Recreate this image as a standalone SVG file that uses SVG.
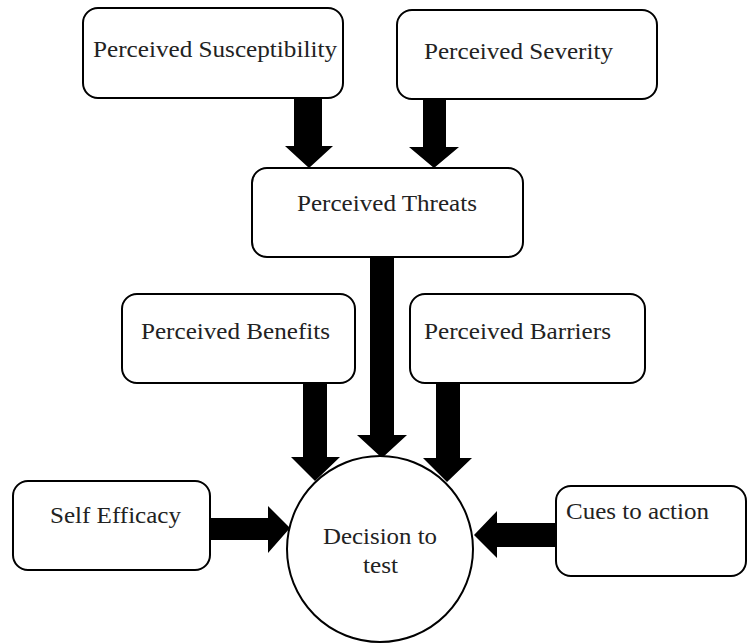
<svg xmlns="http://www.w3.org/2000/svg" width="748" height="643" viewBox="0 0 748 643">
  <style>
    .box { fill: #ffffff; stroke: #000000; stroke-width: 2; }
    .node-circle { fill: #ffffff; stroke: #000000; stroke-width: 2; }
    .label { font-family: "Liberation Serif", "Times New Roman", serif; font-size: 23px; fill: #222222; }
    .arrow { fill: #000000; stroke: none; }
  </style>
  <rect width="748" height="643" fill="#ffffff"/>

  <!-- block arrows -->
  <g id="connectors">
    <!-- Susceptibility -> Threats -->
    <polygon class="arrow" points="294,98 322,98 322,146 333,146 309,168 285,146 294,146"/>
    <!-- Severity -> Threats -->
    <polygon class="arrow" points="423,99 446,99 446,147 459,147 434,168 409,147 423,147"/>
    <!-- Threats -> Decision -->
    <polygon class="arrow" points="370,257 394,257 394,435 407,435 382,458 357,435 370,435"/>
    <!-- Benefits -> Decision -->
    <polygon class="arrow" points="303,383 327,383 327,457 340,457 315,481 291,457 303,457"/>
    <!-- Barriers -> Decision -->
    <polygon class="arrow" points="436,383 460,383 460,458 472,458 447,482 423,458 436,458"/>
    <!-- Self Efficacy -> Decision -->
    <polygon class="arrow" points="210,518 268,518 268,506 290,528 268,553 268,540 210,540"/>
    <!-- Cues to action -> Decision -->
    <polygon class="arrow" points="556,523 497,523 497,511 474,535 497,558 497,547 556,547"/>
  </g>

  <g id="node-susceptibility">
    <rect class="box" x="83" y="8" width="260" height="90" rx="15" ry="15"/>
    <text class="label" x="93" y="57" textLength="244" lengthAdjust="spacingAndGlyphs">Perceived Susceptibility</text>
  </g>

  <g id="node-severity">
    <rect class="box" x="397" y="10" width="260" height="89" rx="15" ry="15"/>
    <text class="label" x="424" y="59" textLength="189" lengthAdjust="spacingAndGlyphs">Perceived Severity</text>
  </g>

  <g id="node-threats">
    <rect class="box" x="252" y="168" width="271" height="89" rx="15" ry="15"/>
    <text class="label" x="297" y="211" textLength="180" lengthAdjust="spacingAndGlyphs">Perceived Threats</text>
  </g>

  <g id="node-benefits">
    <rect class="box" x="122" y="294" width="233" height="89" rx="15" ry="15"/>
    <text class="label" x="141" y="339" textLength="189" lengthAdjust="spacingAndGlyphs">Perceived Benefits</text>
  </g>

  <g id="node-barriers">
    <rect class="box" x="410" y="294" width="235" height="89" rx="15" ry="15"/>
    <text class="label" x="424" y="339" textLength="187" lengthAdjust="spacingAndGlyphs">Perceived Barriers</text>
  </g>

  <g id="node-self-efficacy">
    <rect class="box" x="13" y="481" width="197" height="89" rx="15" ry="15"/>
    <text class="label" x="50" y="523" textLength="131" lengthAdjust="spacingAndGlyphs">Self Efficacy</text>
  </g>

  <g id="node-cues">
    <rect class="box" x="556" y="486" width="190" height="90" rx="15" ry="15"/>
    <text class="label" x="566" y="519" textLength="143" lengthAdjust="spacingAndGlyphs">Cues to action</text>
  </g>

  <g id="node-decision">
    <circle class="node-circle" cx="380" cy="549" r="93"/>
    <text class="label" x="323" y="544" textLength="114" lengthAdjust="spacingAndGlyphs">Decision to</text>
    <text class="label" x="363" y="573" textLength="35" lengthAdjust="spacingAndGlyphs">test</text>
  </g>
</svg>
